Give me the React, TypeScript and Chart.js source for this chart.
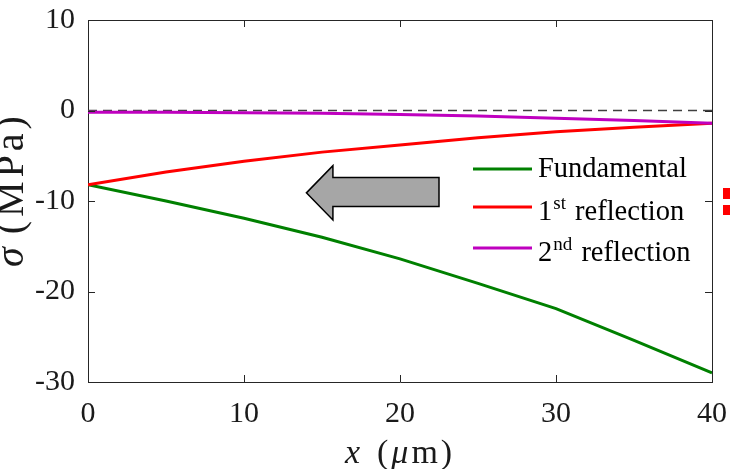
import React, { useEffect, useRef } from "react";
import { Chart, registerables } from "chart.js";

Chart.register(...registerables);

// ---- data ----
const xValues = [0, 5, 10, 15, 20, 25, 30, 35, 40];
const fundamental = [-8.2, -10.0, -11.9, -14.0, -16.4, -19.1, -21.9, -25.4, -29.0];
const reflection1 = [-8.2, -6.8, -5.6, -4.6, -3.8, -3.0, -2.35, -1.85, -1.4];
const reflection2 = [-0.2, -0.2, -0.25, -0.3, -0.45, -0.6, -0.85, -1.1, -1.4];
const zeroLineX = [0, 40];
const zeroLineY = [0, 0];
const xTicks = [0, 10, 20, 30, 40];
const yTicks = [-30, -20, -10, 0, 10];
// arrow annotation polygon in data coordinates (x, y)
const arrowX = [14, 15.7, 15.7, 22.5, 22.5, 15.7, 15.7];
const arrowY = [-9.1, -6.1, -7.4, -7.4, -10.6, -10.6, -12.1];
const seriesLabels = ["Fundamental", "1", "2"];
const seriesSups = ["", "st", "nd"];
const seriesRest = ["", " reflection", " reflection"];
const seriesColors = ["#008000", "#ff0000", "#bf00bf"];

const SERIF = '"Liberation Serif", "Times New Roman", Times, serif';
const AXIS = "#262626";

const pts = (xs: number[], ys: number[]) => xs.map((x, i) => ({ x, y: ys[i] }));

const decorPlugin = {
  id: "decor",
  afterDatasetsDraw(chart: any) {
    const { ctx, chartArea } = chart;
    const xs = chart.scales.x;
    const ys = chart.scales.y;
    const { left, right, top, bottom } = chartArea;
    ctx.save();
    // box
    ctx.strokeStyle = AXIS;
    ctx.lineWidth = 1;
    ctx.beginPath();
    ctx.moveTo(left + 0.5, top + 0.5);
    ctx.lineTo(right + 0.5, top + 0.5);
    ctx.lineTo(right + 0.5, bottom + 0.5);
    ctx.stroke();
    // inward ticks
    const tl = 7;
    ctx.beginPath();
    xTicks.forEach((t) => {
      const px = Math.round(xs.getPixelForValue(t)) + 0.5;
      ctx.moveTo(px, bottom);
      ctx.lineTo(px, bottom - tl);
      ctx.moveTo(px, top);
      ctx.lineTo(px, top + tl);
    });
    yTicks.forEach((t) => {
      const py = Math.round(ys.getPixelForValue(t)) + 0.5;
      ctx.moveTo(left, py);
      ctx.lineTo(left + tl, py);
      ctx.moveTo(right, py);
      ctx.lineTo(right - tl, py);
    });
    ctx.stroke();

    // arrow
    ctx.beginPath();
    arrowX.forEach((ax, i) => {
      const px = xs.getPixelForValue(ax);
      const py = ys.getPixelForValue(arrowY[i]);
      if (i === 0) ctx.moveTo(px, py);
      else ctx.lineTo(px, py);
    });
    ctx.closePath();
    ctx.fillStyle = "#a6a6a6";
    ctx.fill();
    ctx.strokeStyle = "#000";
    ctx.lineWidth = 1.5;
    ctx.lineJoin = "miter";
    ctx.stroke();

    // legend
    const lineY = [169, 207, 248];
    const baseY = [177, 220, 261];
    const lx0 = 473;
    const lx1 = 532;
    const tx = 538;
    seriesLabels.forEach((lab, i) => {
      ctx.strokeStyle = seriesColors[i];
      ctx.lineWidth = 3;
      ctx.beginPath();
      ctx.moveTo(lx0, lineY[i]);
      ctx.lineTo(lx1, lineY[i]);
      ctx.stroke();
      ctx.fillStyle = "#000";
      ctx.textBaseline = "alphabetic";
      ctx.textAlign = "left";
      ctx.font = `28.5px ${SERIF}`;
      let x = tx;
      ctx.fillText(lab, x, baseY[i]);
      x += ctx.measureText(lab).width;
      if (seriesSups[i]) {
        ctx.font = `19px ${SERIF}`;
        ctx.fillText(seriesSups[i], x + 1, baseY[i] - 11);
        x += ctx.measureText(seriesSups[i]).width + 1;
        ctx.font = `28.5px ${SERIF}`;
        ctx.fillText(seriesRest[i], x + 2, baseY[i]);
      }
    });

    // red marks at right edge (clipped neighbour element)
    ctx.fillStyle = "#ff0000";
    ctx.fillRect(right + 11, 188, 10, 11);
    ctx.fillRect(right + 11, 205, 10, 10);

    ctx.restore();
  },
  afterDraw(chart: any) {
    const { ctx } = chart;
    ctx.save();
    ctx.fillStyle = "#1a1a1a";
    ctx.textBaseline = "alphabetic";
    ctx.textAlign = "left";
    // x title: x (μm)
    let x = 345;
    const by = 463;
    ctx.font = `italic 34px ${SERIF}`;
    ctx.fillText("x", x, by);
    x = 377;
    ctx.font = `34px ${SERIF}`;
    ctx.fillText("(", x, by);
    x += ctx.measureText("(").width + 3;
    ctx.font = `italic 34px ${SERIF}`;
    ctx.fillText("μ", x, by);
    x += ctx.measureText("μ").width + 3;
    ctx.font = `34px ${SERIF}`;
    ctx.fillText("m", x, by);
    x += ctx.measureText("m").width + 3;
    ctx.fillText(")", x, by);

    // y title: σ (MPa)
    ctx.translate(23, 267);
    ctx.rotate(-Math.PI / 2);
    let y = 0;
    ctx.font = `italic 40px ${SERIF}`;
    ctx.fillText("σ", y, 0);
    y += ctx.measureText("σ").width + 13;
    ctx.font = `40px ${SERIF}`;
    (ctx as any).letterSpacing = "4px";
    ctx.fillText("(MPa)", y, 0);
    ctx.restore();
  },
};

export default function App() {
  const ref = useRef<HTMLCanvasElement | null>(null);
  useEffect(() => {
    document.body.style.margin = "0";
    const canvas = ref.current!;
    const chart = new Chart(canvas, {
      type: "line",
      data: {
        datasets: [
          {
            label: "zero",
            data: pts(zeroLineX, zeroLineY),
            borderColor: "#404040",
            borderWidth: 1.5,
            borderDash: [9, 6],
            pointRadius: 0,
            order: 4,
          },
          {
            label: "Fundamental",
            data: pts(xValues, fundamental),
            borderColor: seriesColors[0],
            borderWidth: 3,
            pointRadius: 0,
            order: 3,
          },
          {
            label: "1st reflection",
            data: pts(xValues, reflection1),
            borderColor: seriesColors[1],
            borderWidth: 3,
            pointRadius: 0,
            order: 2,
          },
          {
            label: "2nd reflection",
            data: pts(xValues, reflection2),
            borderColor: seriesColors[2],
            borderWidth: 3,
            pointRadius: 0,
            order: 1,
          },
        ],
      },
      options: {
        animation: false,
        responsive: false,
        devicePixelRatio: 1,
        layout: { padding: { top: 20, right: 18, left: 0, bottom: 0 } },
        plugins: { legend: { display: false }, tooltip: { enabled: false } },
        scales: {
          x: {
            type: "linear",
            min: 0,
            max: 40,
            afterFit: (s: any) => {
              s.height = 87;
              s.paddingLeft = 0;
              s.paddingRight = 0;
              s.paddingTop = 0;
              s.paddingBottom = 0;
            },
            afterBuildTicks: (s: any) => {
              s.ticks = xTicks.map((v) => ({ value: v }));
            },
            grid: { display: false, drawTicks: false },
            border: { display: true, color: AXIS, width: 1 },
            ticks: {
              padding: 14,
              color: "#1a1a1a",
              font: { family: SERIF, size: 30 },
              maxRotation: 0,
            },
          },
          y: {
            type: "linear",
            min: -30,
            max: 10,
            afterFit: (s: any) => {
              s.width = 88;
              s.paddingLeft = 0;
              s.paddingRight = 0;
              s.paddingTop = 0;
              s.paddingBottom = 0;
            },
            afterBuildTicks: (s: any) => {
              s.ticks = yTicks.map((v) => ({ value: v }));
            },
            grid: { display: false, drawTicks: false },
            border: { display: true, color: AXIS, width: 1 },
            ticks: {
              padding: 13,
              color: "#1a1a1a",
              font: { family: SERIF, size: 30 },
            },
          },
        },
      },
      plugins: [decorPlugin],
    });
    return () => chart.destroy();
  }, []);
  return (
    <div style={{ position: "fixed", left: 0, top: 0, width: 730, height: 469, background: "#fff" }}>
      <canvas ref={ref} width={730} height={469} />
    </div>
  );
}
